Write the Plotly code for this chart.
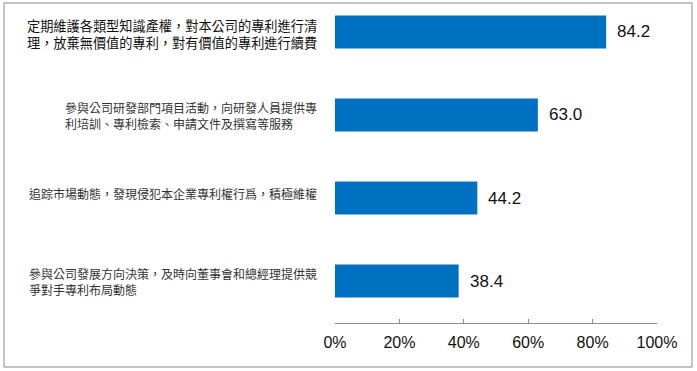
import plotly.graph_objects as go

categories = [
    "定期維護各類型知識產權，對本公司的專利進行清<br>理，放棄無價值的專利，對有價值的專利進行續費",
    "參與公司研發部門項目活動，向研發人員提供專<br>利培訓、專利檢索、申請文件及撰寫等服務",
    "追踪市場動態，發現侵犯本企業專利權行爲，積極維權",
    "參與公司發展方向決策，及時向董事會和總經理提供競<br>爭對手專利布局動態",
]
values = [84.2, 63.0, 44.2, 38.4]
tick_vals = [0, 20, 40, 60, 80, 100]
tick_text = ["0%", "20%", "40%", "60%", "80%", "100%"]

W, H = 697, 371
ml, mr, mt, mb = 335, 40, 8, 48
pw, ph = W - ml - mr, H - mt - mb

label_sizes = [13.2, 12, 12, 12]
label_colors = ["#111111", "#333333", "#333333", "#333333"]
label_yshift = [-2, -1, 5, 0]

fig = go.Figure()
fig.add_trace(go.Bar(
    x=values, y=list(range(len(categories))), orientation="h",
    marker=dict(color="#0070C0", line=dict(width=0)),
    width=0.4, hoverinfo="skip",
))

annotations = []
for i, (cat, v) in enumerate(zip(categories, values)):
    annotations.append(dict(
        x=v, y=i, xref="x", yref="y", text=f"{v:.1f}", showarrow=False,
        xanchor="left", yanchor="middle", xshift=9,
        font=dict(family="Liberation Sans, Arial", size=17, color="#111111"),
    ))
    annotations.append(dict(
        x=0, y=i, xref="paper", yref="y", text=cat, showarrow=False,
        xanchor="right", yanchor="middle", align="left", xshift=-16,
        yshift=label_yshift[i],
        font=dict(family="Noto Sans CJK TC", size=label_sizes[i], color=label_colors[i]),
    ))

fig.update_layout(
    width=W, height=H,
    margin=dict(l=ml, r=mr, t=mt, b=mb),
    paper_bgcolor="white", plot_bgcolor="white",
    showlegend=False,
    annotations=annotations,
    shapes=[dict(
        type="rect", xref="paper", yref="paper",
        x0=(4 - ml) / pw, x1=(692 - ml) / pw,
        y0=(H - mb - 367) / ph, y1=(H - mb - 3) / ph,
        line=dict(color="#888888", width=1), fillcolor="rgba(0,0,0,0)", layer="below",
    )],
    xaxis=dict(
        range=[0, 100], tickvals=tick_vals, ticktext=tick_text,
        showgrid=False, zeroline=False, showline=True, linecolor="#8c8c8c", linewidth=1,
        ticks="inside", ticklen=4, tickcolor="#8c8c8c",
        tickfont=dict(family="Liberation Sans, Arial", size=16, color="#111111"),
        ticklabelstandoff=5,
        fixedrange=True,
    ),
    yaxis=dict(
        range=[3.506, -0.289], showticklabels=False, showgrid=False, zeroline=False,
        showline=False, ticks="", fixedrange=True,
    ),
)

fig.write_html(
    "out.html",
    config={"displayModeBar": False},
    post_script="document.body.style.margin='0';document.body.style.overflow='hidden';",
)
